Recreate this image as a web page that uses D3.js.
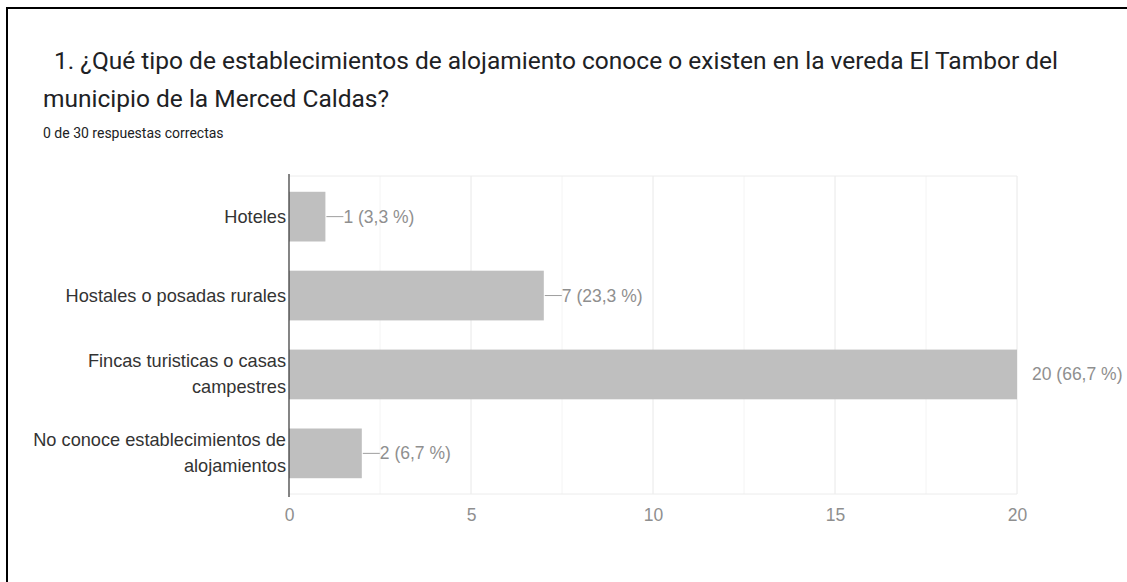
<!DOCTYPE html>
<html>
<head>
<meta charset="utf-8">
<script src="https://cdn.jsdelivr.net/npm/d3@7"></script>
<style>
  html, body { margin: 0; padding: 0; background: #fff; }
  svg { display: block; }
</style>
</head>
<body>
<svg id="chart" width="1127" height="582"></svg>
<script>
const titleLines = ["1. ¿Qué tipo de establecimientos de alojamiento conoce o existen en la vereda El Tambor del", "municipio de la Merced Caldas?"];
const subtitle = "0 de 30 respuestas correctas";
const categories = [
  ["Hoteles"],
  ["Hostales o posadas rurales"],
  ["Fincas turisticas o casas", "campestres"],
  ["No conoce establecimientos de", "alojamientos"]
];
const values = [1, 7, 20, 2];
const valueLabels = ["1 (3,3 %)", "7 (23,3 %)", "20 (66,7 %)", "2 (6,7 %)"];
const xTicks = [0, 5, 10, 15, 20];
const xGrid = [2.5, 5, 7.5, 10, 12.5, 15, 17.5, 20];

const svg = d3.select("#chart");
const W = 1127, H = 582;
const labelFont = "'Liberation Sans', Arial, sans-serif";

// frame border (left + top visible)
svg.append("path")
  .attr("d", `M7,${H} L7,8 L${W},8`)
  .attr("fill", "none").attr("stroke", "#000").attr("stroke-width", 2);

// title
const tg = svg.append("g").attr("font-family", "Roboto, 'Noto Sans', sans-serif").attr("fill", "#202124");
tg.append("text").attr("x", 54).attr("y", 69).attr("font-size", 24.5).text(titleLines[0]);
tg.append("text").attr("x", 43).attr("y", 107).attr("font-size", 24.5).text(titleLines[1]);
tg.append("text").attr("x", 43).attr("y", 138).attr("font-size", 14).text(subtitle);

const x0 = 289, x1 = 1017, yTop = 176, yBot = 494;
const x = d3.scaleLinear().domain([0, 20]).range([x0, x1]);
const y = d3.scaleBand().domain(d3.range(categories.length)).range([yTop, yBot]).paddingInner(0.37).paddingOuter(0.2);

// grid
const g = svg.append("g");
g.selectAll("line.minor").data(xGrid).enter().append("line")
  .attr("x1", d => x(d)).attr("x2", d => x(d)).attr("y1", yTop).attr("y2", yBot)
  .attr("stroke", d => d % 5 === 0 ? "#e8e8e8" : "#f4f4f4").attr("stroke-width", 1);
g.append("line").attr("x1", x0).attr("x2", x1).attr("y1", yTop).attr("y2", yTop).attr("stroke", "#ececec");
g.append("line").attr("x1", x0).attr("x2", x1).attr("y1", yBot).attr("y2", yBot).attr("stroke", "#ececec");

// bars
g.selectAll("rect.bar").data(values).enter().append("rect")
  .attr("x", x(0)).attr("y", (d, i) => y(i))
  .attr("width", d => x(d) - x(0)).attr("height", y.bandwidth())
  .attr("fill", "#bfbfbf");

// value labels
const lab = g.selectAll("g.vl").data(values).enter().append("g");
lab.each(function(d, i) {
  const gg = d3.select(this);
  const cy = y(i) + y.bandwidth() / 2;
  const atEnd = x(d) > x1 - 5;
  if (!atEnd) {
    gg.append("line").attr("x1", x(d) + 1).attr("x2", x(d) + 18).attr("y1", cy).attr("y2", cy)
      .attr("stroke", "#9e9e9e").attr("stroke-width", 1);
  }
  gg.append("text").attr("x", x(d) + (atEnd ? 15 : 18)).attr("y", cy + 6)
    .attr("font-family", labelFont).attr("font-size", 17.5)
    .attr("fill", "#8f8f8f").text(valueLabels[i]);
});

// category labels
const cl = g.selectAll("text.cat").data(categories).enter().append("text")
  .attr("text-anchor", "end")
  .attr("font-family", labelFont).attr("font-size", 18.2)
  .attr("fill", "#333");
cl.each(function(lines, i) {
  const t = d3.select(this);
  const cy = y(i) + y.bandwidth() / 2;
  const lh = 26;
  const startY = cy - (lines.length - 1) * lh / 2 + 6;
  lines.forEach((s, k) => {
    t.append("tspan").attr("x", x0 - 3).attr("y", startY + k * lh).text(s);
  });
});

// axis line
g.append("line").attr("x1", x0).attr("x2", x0).attr("y1", yTop - 2).attr("y2", yBot + 3)
  .attr("stroke", "#333").attr("stroke-width", 1.2);

// x axis ticks
const ax = svg.append("g").attr("transform", `translate(0,${yBot + 27})`)
  .call(d3.axisBottom(x).tickValues(xTicks).tickSize(0).tickPadding(0));
ax.select(".domain").remove();
ax.selectAll("text").attr("font-family", labelFont)
  .attr("font-size", 17.5).attr("fill", "#8f8f8f").attr("dy", "0");
</script>
</body>
</html>
